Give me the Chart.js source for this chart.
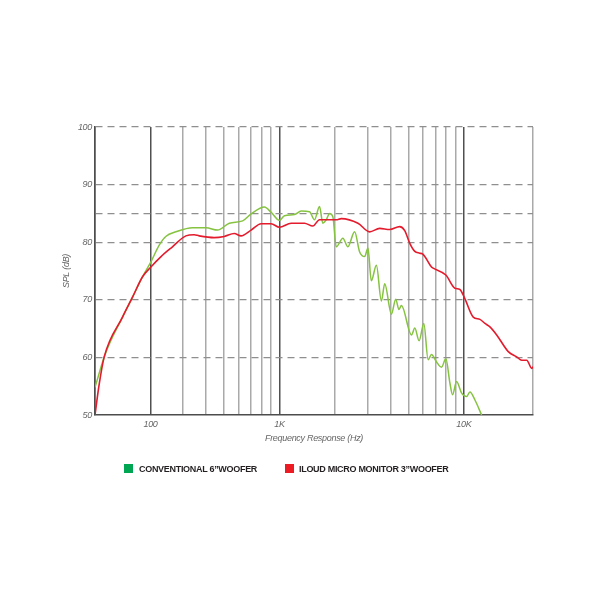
<!DOCTYPE html>
<html>
<head>
<meta charset="utf-8">
<script src="https://cdn.jsdelivr.net/npm/chart.js@4.4.0/dist/chart.umd.min.js"></script>
<style>
    body { margin: 0; background: #fff; }
    #wrap { position: relative; width: 600px; height: 600px; }
    .box { position: absolute; top: 464px; width: 9px; height: 9px; }
    .txt { position: absolute; top: 464px; line-height: 11px; font: bold 9px "Liberation Sans", Arial, sans-serif; letter-spacing: -0.3px; color: #231f20; white-space: nowrap; }
</style>
</head>
<body>
<div id="wrap">
    <canvas id="chart-spl"></canvas>
    <div class="box" style="left:124px;background:#00a651"></div>
    <div class="txt" style="left:139px">CONVENTIONAL 6”WOOFER</div>
    <div class="box" style="left:285px;background:#ed1c24"></div>
    <div class="txt" style="left:299px">ILOUD MICRO MONITOR 3”WOOFER</div>
</div>
<script>
// Curvas (posición en Hz sobre el eje log, dB)
const greenHz = [100, 114, 141, 160, 181, 201, 223, 242, 275, 338, 400, 462, 535, 632, 702, 829, 901, 1000, 1065, 1207,
    1312, 1455, 1549, 1649, 1719, 1795, 1870, 1949, 2032, 2208, 2350, 2556, 2722, 2897, 3020, 3148, 3355, 3571, 3722, 4047,
    4270, 4446, 4585, 5200, 5420, 5716, 6064, 6399, 6674, 7108, 7566, 7985, 8395, 8682, 9127, 9727, 10346, 10784, 11482, 12480]
const greenDb = [54.8, 60.7, 67, 70.5, 74, 76.6, 79.5, 81, 81.8, 82.5, 82.5, 82.1, 83.3, 83.7, 84.9, 86.1, 85.2, 83.8, 84.6, 84.8,
    85.4, 85.3, 83.9, 86.2, 83.3, 83.9, 85, 84.4, 79.2, 80.7, 79.2, 81.8, 78.3, 77.5, 79, 73.3, 76, 69.8, 72.8, 67.5,
    70.1, 68.3, 69, 63.9, 65.1, 62.9, 65.9, 59.6, 60.5, 59.2, 58.3, 59.8, 55.6, 53.5, 55.8, 53.8, 53.2, 54, 52.6, 50]

const redHz = [100, 105, 112, 141, 160, 181, 201, 228, 263, 311, 345, 367, 443, 502, 569, 619, 702, 796, 901, 1000,
    1158, 1367, 1517, 1649, 2032, 2164, 2666, 3084, 3494, 3962, 4487, 4779, 5090, 5420, 5766, 6010, 6674, 6810, 7985, 8933,
    9513, 10121, 11240, 12218, 13006, 13843, 15059, 17410, 19320, 20593, 21920, 23335, 23714]
const redDb = [50, 55, 60, 67, 70.5, 74, 75.7, 77.5, 79.2, 81.1, 81.3, 81.1, 80.8, 81, 81.5, 81.1, 82.1, 83.2, 83.2, 82.6,
    83.3, 83.3, 82.8, 83.9, 83.9, 84.1, 83.3, 81.8, 82.4, 82.2, 82.7, 82, 79.8, 78.4, 78.1, 77.9, 75.7, 75.5, 74.3, 72,
    71.8, 70.2, 67, 66.6, 65.9, 65.3, 63.9, 61, 60.1, 59.5, 59.5, 58.1, 58.4]

// Eje X: líneas de rejilla y etiquetas tal como aparecen en la imagen
const xGridHz = [100, 200, 300, 400, 500, 600, 700, 800, 900, 1000, 2000, 3000, 4000, 5000, 6000, 7000, 8000, 9000, 10000, 23700]
const xMajorHz = [100, 200, 1000, 10000]
const xLabelHz = [200, 1000, 10000]
const xLabelText = ['100', '1K', '10K']

const yTicks = [50, 60, 70, 80, 85, 90, 100]
const yTickLabels = ['50', '60', '70', '80', '', '90', '100']


Chart.defaults.font.family = '"Liberation Sans", Arial, sans-serif'
Chart.defaults.color = '#666666'

const condense = {
    id: 'condense',
    beforeDraw(chart) { chart.ctx.letterSpacing = '-0.3px' }
}

printSplChart()

function printSplChart() {

    const data = {
        datasets: [
            {
                label: 'ILOUD MICRO MONITOR 3"WOOFER',
                data: redHz.map((f, i) => ({ x: f, y: redDb[i] })),
                borderColor: '#e31b2c',
                borderWidth: 1.6,
                pointRadius: 0,
                cubicInterpolationMode: 'monotone',
                order: 0
            },
            {
                label: 'CONVENTIONAL 6"WOOFER',
                data: greenHz.map((f, i) => ({ x: f, y: greenDb[i] })),
                borderColor: '#86c341',
                borderWidth: 1.5,
                pointRadius: 0,
                cubicInterpolationMode: 'monotone',
                order: 1
            }
        ]
    }

    const options = {
        responsive: true,
        maintainAspectRatio: false,
        animation: false,
        layout: { padding: { top: 127, right: 67, bottom: 152, left: 61 } },
        plugins: {
            legend: { display: false },
            tooltip: { enabled: false }
        },
        scales: {
            x: {
                type: 'logarithmic',
                min: 100,
                max: 23700,
                afterBuildTicks: s => { s.ticks = xGridHz.map(v => ({ value: v })) },
                afterFit: s => { s.height = 33 },
                ticks: {
                    autoSkip: false,
                    maxRotation: 0,
                    padding: 4,
                    font: { size: 9, style: 'italic' },
                    callback: v => {
                        const i = xLabelHz.indexOf(v)
                        return i < 0 ? '' : xLabelText[i]
                    }
                },
                grid: {
                    drawTicks: false,
                    lineWidth: 1.5,
                    color: c => xMajorHz.includes(c.tick && c.tick.value) ? '#505050' : '#a9a9a9'
                },
                border: { display: true, color: '#4d4d4d', width: 1.5 },
                title: {
                    display: true,
                    text: 'Frequency Response (Hz)',
                    font: { size: 9, style: 'italic' }
                }
            },
            y: {
                min: 50,
                max: 100,
                afterBuildTicks: s => { s.ticks = yTicks.map(v => ({ value: v })) },
                afterFit: s => { s.width = 34 },
                ticks: {
                    autoSkip: false,
                    padding: 3,
                    font: { size: 9, style: 'italic' },
                    callback: v => yTickLabels[yTicks.indexOf(v)]
                },
                grid: {
                    drawTicks: false,
                    lineWidth: 1.2,
                    color: c => (c.tick && c.tick.value === 50) ? 'rgba(0,0,0,0)' : '#8f8f8f'
                },
                border: { display: true, color: '#4d4d4d', width: 1.5, dash: [7, 5] },
                title: {
                    display: true,
                    text: 'SPL (dB)',
                    padding: 0,
                    font: { size: 9, style: 'italic' }
                }
            }
        }
    }

    new Chart('chart-spl', { type: 'line', data, options, plugins: [condense] })

}
</script>
</body>
</html>
